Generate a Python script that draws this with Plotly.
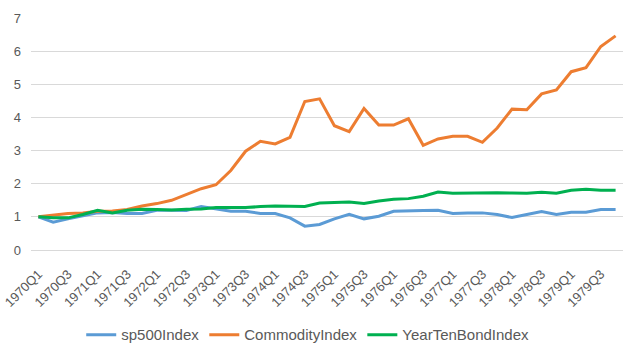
import plotly.graph_objects as go

quarters = [f"{y}Q{q}" for y in range(1970, 1980) for q in range(1, 5)]

sp500 = [1.0, 0.84, 0.94, 1.03, 1.12, 1.13, 1.1, 1.1, 1.2, 1.2,
         1.19, 1.31, 1.24, 1.17, 1.17, 1.1, 1.1, 0.97, 0.72, 0.77,
         0.94, 1.08, 0.94, 1.02, 1.17, 1.17, 1.19, 1.2, 1.1, 1.12,
         1.12, 1.07, 0.98, 1.07, 1.16, 1.07, 1.14, 1.14, 1.22, 1.22]
commodity = [1.0, 1.05, 1.1, 1.12, 1.17, 1.18, 1.22, 1.33, 1.4, 1.5,
             1.68, 1.85, 1.97, 2.4, 2.98, 3.28, 3.2, 3.4, 4.48, 4.56,
             3.75, 3.57, 4.27, 3.77, 3.77, 3.96, 3.16, 3.35, 3.43, 3.43,
             3.25, 3.68, 4.25, 4.23, 4.71, 4.83, 5.38, 5.5, 6.14, 6.46]
bond = [1.0, 0.97, 0.97, 1.07, 1.2, 1.12, 1.2, 1.23, 1.22, 1.21,
        1.23, 1.24, 1.28, 1.28, 1.28, 1.31, 1.33, 1.32, 1.31, 1.42,
        1.44, 1.45, 1.4, 1.48, 1.53, 1.55, 1.62, 1.75, 1.71, 1.72,
        1.73, 1.73, 1.72, 1.71, 1.74, 1.71, 1.8, 1.83, 1.8, 1.8]

series = [("sp500Index", sp500, "#5B9BD5"),
          ("CommodityIndex", commodity, "#ED7D31"),
          ("YearTenBondIndex", bond, "#00B050")]

fig = go.Figure()
for name, vals, color in series:
    fig.add_trace(go.Scatter(x=quarters, y=vals, mode="lines", name=name,
                             line=dict(color=color, width=3)))

font = dict(family="Liberation Sans, Arial, sans-serif", size=13, color="#595959")
legend_font = dict(family="Liberation Sans, Arial, sans-serif", size=15, color="#595959")
fig.update_layout(
    width=628, height=354,
    margin=dict(l=31, r=5, t=18, b=104, autoexpand=False),
    paper_bgcolor="white", plot_bgcolor="white",
    font=font,
    showlegend=True,
    legend=dict(orientation="h", xref="container", x=0.49, xanchor="center",
                yref="container", y=0.054, yanchor="middle",
                font=legend_font, itemwidth=30, tracegroupgap=0),
    xaxis=dict(type="category", range=[-0.5, 39.5], tickangle=-45,
               tickmode="array", tickvals=quarters[::2], ticktext=quarters[::2],
               showgrid=False, showline=False, zeroline=False, ticks="",
               tickfont=font, automargin=False, ticklabelstandoff=13),
    yaxis=dict(range=[0, 7], dtick=1, showgrid=True, gridcolor="#D9D9D9",
               gridwidth=1, zeroline=True, zerolinecolor="#D9D9D9", zerolinewidth=1,
               showline=False, ticks="", tickfont=font, ticklabelstandoff=9,
               automargin=False),
)
fig.write_html("out.html")
